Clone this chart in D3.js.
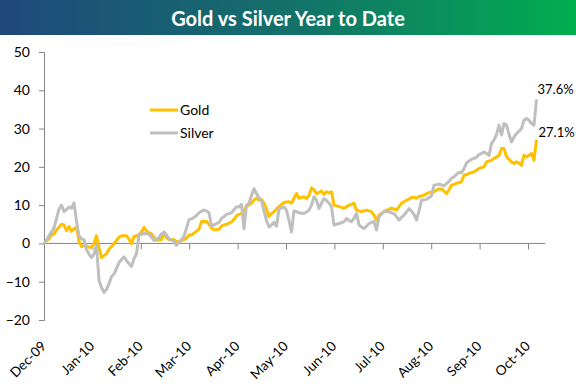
<!DOCTYPE html>
<html><head><meta charset="utf-8">
<script src="https://cdn.jsdelivr.net/npm/d3@7"></script>
<style>
body{margin:0;background:#fff}
svg{display:block}
text{font-family:Lato,"Open Sans",sans-serif}
</style>
</head><body>
<svg id="c" width="576" height="386"></svg>
<script>
const title = "Gold vs Silver Year to Date";
const months = ["Dec-09","Jan-10","Feb-10","Mar-10","Apr-10","May-10","Jun-10","Jul-10","Aug-10","Sep-10","Oct-10"];
const yTicks = [-20,-10,0,10,20,30,40,50];
const seriesNames = ["Gold","Silver"];
// % change year to date, one value per trading day
const gold = [0,0.7,1.2,2.2,2.5,3.5,4.2,5,4.8,3.3,4.4,3.2,3.8,4.2,0.6,-0.8,-0.6,-0.6,-1,-1,
0,2,-1,-3.7,-3.2,-2.7,-1.5,-0.8,-0.1,0.8,1.6,2,2,2,1.1,-0.1,1.8,2,2.3,3,
4.2,3.2,2.8,2.5,1.6,0.8,0.9,1,2.5,1.5,1,1,1,0.5,0.5,0.7,1,1.3,2.2,2.2,
2.7,3.2,3.7,5.7,5.8,5.7,5,4,3.6,3.6,3.7,4.5,4.8,5,5.3,5.6,6.3,7.2,7.6,7.8,
8.5,9.8,10,10.5,11.3,11.8,11.3,11.5,10.5,9,7,7.8,8.3,9,9.6,10.2,10.7,10.8,10.9,10.5,
11.8,13,11.8,12,12.2,11.7,12.5,14.5,14,13,13.3,13.7,12.8,13.5,13.2,13.5,10,9.8,9.6,9.4,
9.2,9.6,10,10.2,10.5,8.7,8.5,8.3,8.5,8.7,8.5,8.3,7.4,6.1,7.4,7.8,8.3,8.7,8.9,9.2,
9,8.7,9.6,10.5,10.9,11.3,11.6,12,12,11.8,12.2,12.4,12.6,13,13.3,13.4,13.5,13.9,14.3,14.2,
13.7,13,14,15.2,15.4,15.7,15.9,16.1,17.8,18,18.3,18.5,18.7,19.1,19.6,19.8,20,21.3,21.5,21.7,
22.2,22.6,23,24.8,24.8,22.6,22,21.3,20.9,21.3,21,20.4,23,22.6,23,23.5,21.7,27.1];
const silver = [0,0.8,2,3,4,6.5,9,10,8.3,8.8,9.5,9.2,10.6,5.8,2,1.2,1,-1.6,-2.8,-3.7,
-2.8,-0.5,-9.6,-11.5,-12.8,-12,-10.5,-8.7,-8,-6.5,-5,-4.2,-3.5,-4.5,-5.3,-6,-4,-2.7,2.2,2.4,
2.6,2.5,2.4,1.6,0.8,1.1,1.5,2.5,3,2.2,1.2,0.9,0.5,-0.5,0.3,1,1.8,4,6.2,6.4,
6.8,7.3,8,8.4,8.7,8.5,8,4.6,4.8,5.2,5.5,6.5,7,7.6,7.8,8,8.8,9.6,9.5,10.2,
3.8,10,10.5,12.5,14.3,13,12,11,8.5,6,4.3,4.8,5.5,4.5,9,9.3,9.5,8.7,6,3,
8.5,8.3,8,7.9,7.8,8.2,8.7,10,12.2,11.3,9.1,10.5,11.7,11.2,10.5,9.6,4.8,5,5.2,5.4,
5.7,6.5,6,5.7,6.5,7.8,4.8,4.3,3.9,4.5,5.2,5.5,5.7,3.5,7,7.7,8.3,8.3,8.3,8,
7.8,7,6.1,6.8,7.4,8.2,9.1,8.4,7.6,6.1,8.5,11.3,11.4,11.5,12,12.4,15.2,15.3,15.5,15.3,
15,15.6,16.2,17,17.4,18,18.5,18.5,19.5,21,21.5,22,22.2,22.5,23.2,23.5,23.9,23.5,23,26.1,
27,28.5,30.9,28.3,31.3,30.9,28.5,26.5,27.8,28.7,29.3,30,32.2,32.6,32.2,31.3,30.9,37.6];
const colors = ["#FFC000","#BFBFBF"];

const svg = d3.select("#c");
const W = 576;

// title bar
const defs = svg.append("defs");
const grad = defs.append("linearGradient").attr("id","tg").attr("x1","0").attr("x2","1").attr("y1","0").attr("y2","0");
grad.append("stop").attr("offset","0").attr("stop-color","#1F487C");
grad.append("stop").attr("offset","0.5").attr("stop-color","#14706A");
grad.append("stop").attr("offset","1").attr("stop-color","#00AE4F");
svg.append("rect").attr("x",0).attr("y",0).attr("width",W).attr("height",35).attr("fill","url(#tg)");
svg.append("text").attr("x",288).attr("y",26).attr("text-anchor","middle")
  .attr("fill","#fff").attr("font-weight","bold").attr("font-size",20).text(title);

const x = d3.scaleLinear().domain([0, gold.length-1]).range([44, 536.5]);
const y = d3.scaleLinear().domain([-20, 50]).range([320, 52]);
const tickPos = d3.scalePoint().domain(months).range([44, 528]);

// y axis
const yAxis = svg.append("g").attr("transform","translate(44,0)")
  .call(d3.axisLeft(y).tickValues(yTicks).tickSize(5).tickPadding(9).tickFormat(d3.format("d")));
yAxis.select(".domain").attr("stroke","#868686");
yAxis.selectAll(".tick line").attr("stroke","#868686");
yAxis.selectAll(".tick text").attr("font-size",14).attr("fill","#000").style("font-family","Lato");

// x axis at zero
const xAxis = svg.append("g").attr("transform",`translate(0,${y(0)})`)
  .call(d3.axisBottom(tickPos).tickSize(6).tickSizeOuter(0).tickFormat(""));
xAxis.select(".domain").attr("d",`M44,0H545`).attr("stroke","#868686");
xAxis.selectAll(".tick line").attr("stroke","#868686");

// x labels
svg.append("g").selectAll("text").data(months).join("text")
  .attr("transform", d => `translate(${tickPos(d)+3},347) rotate(-45)`)
  .attr("text-anchor","end").attr("font-size",13.5).attr("fill","#000").text(d => d);

// lines
const line = d3.line().x((d,i)=>x(i)).y(d=>y(d));
[gold, silver].forEach((s,k)=>{
  svg.append("path").attr("d", line(s)).attr("fill","none")
    .attr("stroke", colors[k]).attr("stroke-width",3).attr("stroke-linejoin","round");
});

// end labels
svg.append("text").attr("x", x(silver.length-1)+1).attr("y", y(silver[silver.length-1])-5)
  .attr("font-size",13).attr("fill","#000").text(silver[silver.length-1].toFixed(1)+"%");
svg.append("text").attr("x", x(gold.length-1)+2).attr("y", y(gold[gold.length-1])-3)
  .attr("font-size",13).attr("fill","#000").text(gold[gold.length-1].toFixed(1)+"%");

// legend
const leg = svg.append("g");
seriesNames.forEach((n,k)=>{
  const ly = 110 + k*23;
  leg.append("line").attr("x1",150).attr("x2",178).attr("y1",ly).attr("y2",ly)
    .attr("stroke",colors[k]).attr("stroke-width",3);
  leg.append("text").attr("x",180).attr("y",ly+5).attr("font-size",14).attr("fill","#000").text(n);
});
</script>
</body></html>
